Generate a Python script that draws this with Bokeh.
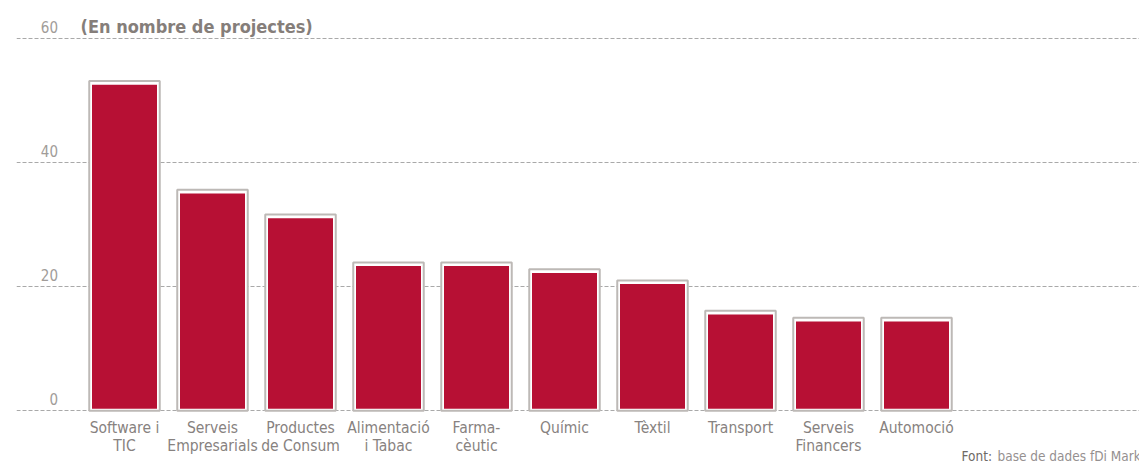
from bokeh.plotting import figure
from bokeh.models import Range1d
from bokeh.embed import file_html
from bokeh.resources import INLINE
from bokeh.core.properties import value

# ---- data ----
categories = ["Software i\nTIC", "Serveis\nEmpresarials", "Productes\nde Consum",
              "Alimentació\ni Tabac", "Farma-\ncèutic", "Químic", "Tèxtil",
              "Transport", "Serveis\nFinancers", "Automoció"]
projects = [52.5, 35, 31, 23.3, 23.3, 22.2, 20.4, 15.5, 14.4, 14.4]
y_ticks = [0, 20, 40, 60]
title_text = "(En nombre de projectes)"
source_label = "Font:"
source_text = "base de dades fDi Markets"

# ---- layout constants (pixels, page coordinates) ----
W, H = 1139, 464
BORDER_LEFT = 16
PX_PER_CAT = 88.0
FIRST_CENTER = 124.0 - BORDER_LEFT   # px from frame left
PX_PER_UNIT = 6.21
ZERO_PX = 410.3                      # px from figure top
FRAME_W = W - BORDER_LEFT
TEXT_SHIFT = 6.0                     # svg text renders lower than requested

x_start = -FIRST_CENTER / PX_PER_CAT
x_end = x_start + FRAME_W / PX_PER_CAT
y_start = -(H - ZERO_PX) / PX_PER_UNIT
y_end = ZERO_PX / PX_PER_UNIT


def xpx(px_page):
    return x_start + (px_page - BORDER_LEFT) / PX_PER_CAT


def ypx(px_page):
    return (ZERO_PX - (px_page - TEXT_SHIFT)) / PX_PER_UNIT


FONT = value("DejaVu Sans Condensed")
RED = "#b71034"
TEXT = "#878280"

p = figure(width=W, height=H, output_backend="svg", toolbar_location=None,
           x_range=Range1d(x_start, x_end), y_range=Range1d(y_start, y_end),
           x_axis_location=None, y_axis_location=None,
           min_border_left=BORDER_LEFT, min_border_right=0,
           min_border_top=0, min_border_bottom=0)
p.grid.visible = False
p.outline_line_color = None
p.background_fill_color = "white"
p.border_fill_color = "white"

xs = list(range(len(categories)))

# gridlines
p.hspan(y=y_ticks, line_color="#a9a9a9", line_width=1, line_dash="4 2")

# outer white boxes with grey outline
p.vbar(x=xs, bottom=0, top=[v + 3.7 / PX_PER_UNIT for v in projects],
       width=70.5 / PX_PER_CAT, fill_color="white",
       line_color="#bdb9b6", line_width=2)

# red bars
p.vbar(x=xs, bottom=2 / PX_PER_UNIT, top=projects, width=65 / PX_PER_CAT,
       fill_color=RED, line_color=None)

# y tick labels (baseline a few px above each gridline)
p.text(x=[xpx(57.5)] * len(y_ticks),
       y=[ypx(ZERO_PX - t * PX_PER_UNIT - 5.5) for t in y_ticks],
       text=[str(t) for t in y_ticks], text_align="right",
       text_baseline="alphabetic", text_font=FONT,
       text_font_size=value("15px"), text_color="#a19c99")

# category labels (two lines)
line1 = [c.split("\n")[0] for c in categories]
line2 = [c.split("\n")[1] if "\n" in c else "" for c in categories]
p.text(x=xs, y=[ypx(433.5)] * len(xs), text=line1, text_align="center",
       text_baseline="alphabetic", text_font=FONT,
       text_font_size=value("15.5px"), text_color=TEXT)
p.text(x=xs, y=[ypx(451.7)] * len(xs), text=line2, text_align="center",
       text_baseline="alphabetic", text_font=FONT,
       text_font_size=value("15.5px"), text_color=TEXT)

# title
p.text(x=[xpx(80)], y=[ypx(32.3)], text=[title_text], text_align="left",
       text_baseline="alphabetic", text_font=FONT, text_font_style="bold",
       text_font_size=value("18px"), text_color="#857e7a")

# source
p.text(x=[xpx(961)], y=[ypx(461.5)], text=[source_label], text_align="left",
       text_baseline="alphabetic", text_font=FONT,
       text_font_size=value("13.5px"), text_color="#6e6965")
p.text(x=[xpx(997)], y=[ypx(461.5)], text=[source_text], text_align="left",
       text_baseline="alphabetic", text_font=FONT,
       text_font_size=value("13.5px"), text_color="#959090")

open("out.html", "w").write(file_html(p, INLINE))
